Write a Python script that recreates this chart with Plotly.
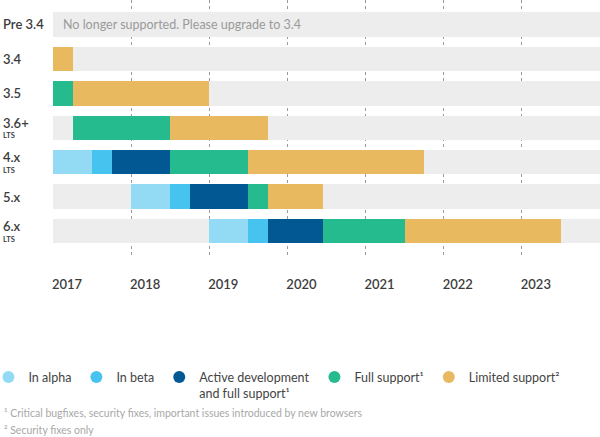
import plotly.graph_objects as go

# Release rows, top to bottom
versions = ["Pre 3.4", "3.4", "3.5", "3.6+", "4.x", "5.x", "6.x"]
lts = [False, False, False, True, True, False, True]

# Phase boundaries in fractional years (None = phase not shown)
alpha_start = [None, None, None, None, 2017.0, 2018.0, 2019.0]
beta_start = [None, None, None, None, 2017.5, 2018.5, 2019.5]
active_start = [None, None, None, None, 2017.75, 2018.75, 2019.75]
full_start = [None, None, 2017.0, 2017.25, 2018.5, 2019.5, 2020.46]
limited_start = [None, 2017.0, 2017.25, 2018.5, 2019.5, 2019.75, 2021.5]
end_of_life = [None, 2017.25, 2019.0, 2019.75, 2021.75, 2020.46, 2023.5]

years = [2017, 2018, 2019, 2020, 2021, 2022, 2023]
x_range = [2017, 2024]

footnotes = [
    "¹ Critical bugfixes, security fixes, important issues introduced by new browsers",
    "² Security fixes only",
]

phases = [
    ("In alpha", "#93dbf5", alpha_start, beta_start),
    ("In beta", "#46c4ef", beta_start, active_start),
    ("Active development<br>and full support¹", "#015893", active_start, full_start),
    ("Full support¹", "#26bb8e", full_start, limited_start),
    ("Limited support²", "#e8b95f", limited_start, end_of_life),
]

rows = list(range(len(versions)))
font = "Lato, 'Open Sans', sans-serif"

fig = go.Figure()

# grey background lanes
fig.add_trace(go.Bar(
    y=rows, x=[x_range[1] - x_range[0]] * len(rows), base=[x_range[0]] * len(rows),
    orientation="h", width=0.71, marker=dict(color="#ededed", line=dict(width=0)),
    showlegend=False, hoverinfo="skip"))

for name, color, starts, ends in phases:
    ys, bases, lens = [], [], []
    for i in rows:
        s, e = starts[i], ends[i]
        if s is None:
            continue
        ys.append(i)
        bases.append(s)
        lens.append(e - s)
    fig.add_trace(go.Bar(
        y=ys, x=lens, base=bases, orientation="h", width=0.71,
        marker=dict(color=color, line=dict(width=0)),
        showlegend=False, name=name))
    # round legend marker
    fig.add_trace(go.Scatter(
        x=[None], y=[None], mode="markers", name=name,
        marker=dict(color=color, size=13, symbol="circle")))

# row labels on the left
for i, v in enumerate(versions):
    fig.add_annotation(
        x=-0.093, xref="paper", y=i, yref="y", text=v, showarrow=False,
        xanchor="left", yanchor="middle", yshift=5 if lts[i] else 0, borderpad=0,
        font=dict(family=font, size=13, color="#3c3c3c", weight=600))
    if lts[i]:
        fig.add_annotation(
            x=-0.093, xref="paper", y=i, yref="y", text="<b>LTS</b>", showarrow=False,
            xanchor="left", yanchor="middle", yshift=-8, borderpad=0,
            font=dict(family=font, size=7.5, color="#3c3c3c"))

fig.add_annotation(
    x=x_range[0], y=0, xref="x", yref="y", xshift=8, showarrow=False,
    xanchor="left", text="No longer supported. Please upgrade to 3.4",
    font=dict(family=font, size=12.5, color="#9a9a9a"))

for k, note in enumerate(footnotes):
    fig.add_annotation(
        x=-0.093, xref="paper", y=-0.607 - 0.066 * k, yref="paper", showarrow=False,
        xanchor="left", yanchor="middle", text=note,
        font=dict(family=font, size=10.5, color="#a8a8a8"))

fig.update_layout(
    width=600, height=437,
    margin=dict(l=53, r=0, t=0, b=180, autoexpand=False),
    plot_bgcolor="white", paper_bgcolor="white",
    barmode="overlay", bargap=0,
    font=dict(family=font, color="#444"),
    xaxis=dict(range=x_range, tickvals=years, ticktext=[str(y) for y in years],
               showgrid=True, gridcolor="#9a9a9a", griddash="dot", gridwidth=1,
               zeroline=False, showline=False, ticks="",
               ticklabelshift=14, ticklabelstandoff=18,
               tickfont=dict(family=font, size=13, color="#3c3c3c", weight=600)),
    yaxis=dict(range=[6.75, -0.71], showgrid=False, zeroline=False,
               showticklabels=False, ticks=""),
    legend=dict(orientation="h", x=-0.118, xanchor="left", y=-0.41, yanchor="top",
                font=dict(family=font, size=12.5, color="#444"),
                itemsizing="constant", tracegroupgap=0, valign="top"),
)

# page body has a default 8px margin; drop it so the figure sits at the corner
fig.write_html("out.html", config={"displayModeBar": False},
               post_script="document.body.style.margin = '0px';")
